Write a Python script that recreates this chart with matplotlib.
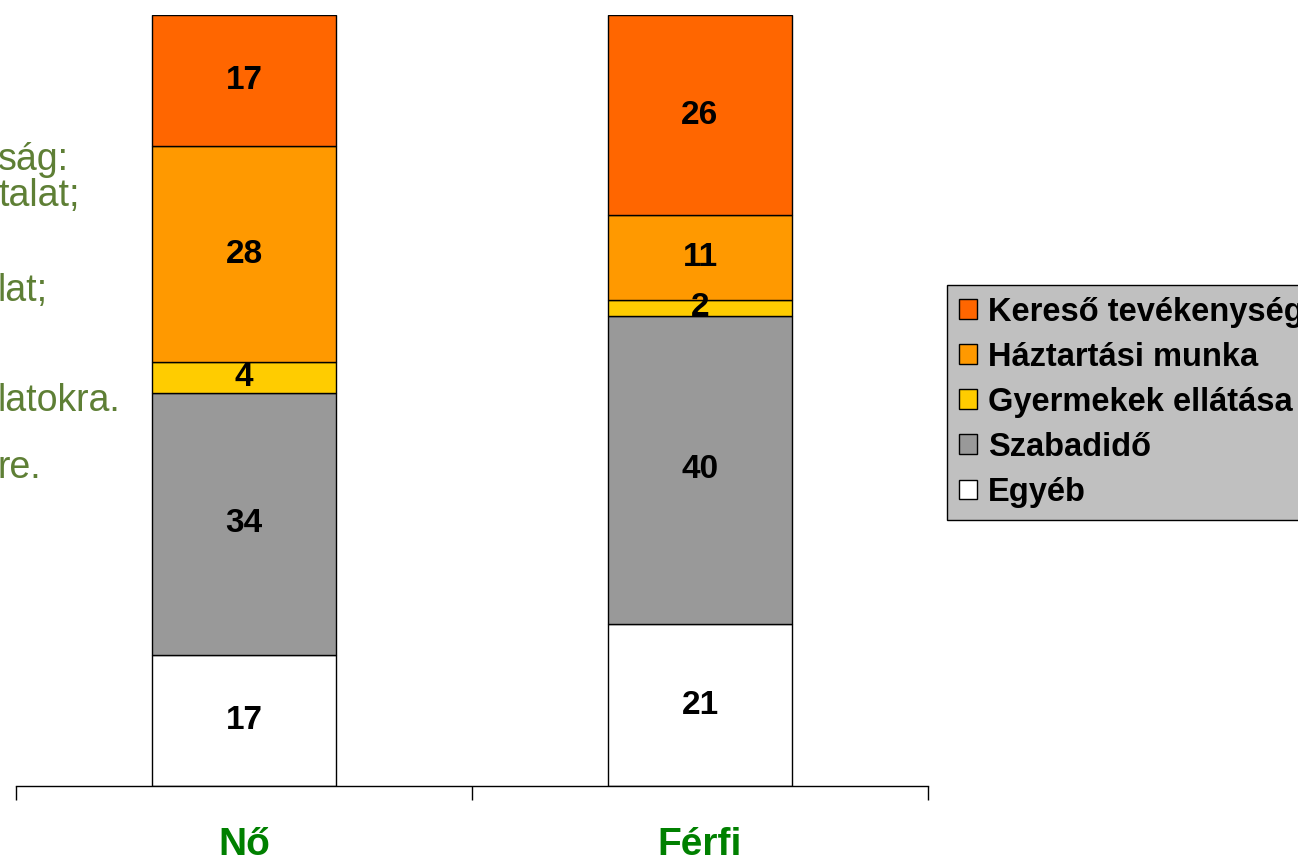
import numpy as np
from matplotlib import pyplot as plt
from matplotlib import font_manager
from matplotlib.patches import Patch

plt.rcParams['font.family'] = ['Liberation Sans', 'DejaVu Sans']

categories = ['Nő', 'Férfi']
series_names = ['Kereső tevékenység', 'Háztartási munka', 'Gyermekek ellátása',
                'Szabadidő', 'Egyéb']
# values per series (Nő, Férfi)
kereso = [17, 26]
haztartasi = [28, 11]
gyermek = [4, 2]
szabadido = [34, 40]
egyeb = [17, 21]
colors = ['#FF6600', '#FF9900', '#FFCC00', '#999999', '#FFFFFF']

side_lines = ['ság:', 'talat;', 'lat;', 'latokra.', 're.']
side_y = [160, 196, 291, 401, 468]  # pixel rows in the source picture

names = {f.name for f in font_manager.fontManager.ttflist}
cat_family = ['Liberation Sans Narrow'] if 'Liberation Sans Narrow' in names else ['Liberation Sans']

W, H = 1298, 864
fig = plt.figure(figsize=(W / 100, H / 100), dpi=100)
ax = fig.add_axes([16 / W, 1 - 786 / H, 912 / W, 771 / H])

x = np.arange(len(categories))
stack = [egyeb, szabadido, gyermek, haztartasi, kereso]
stack_colors = colors[::-1]
bottom = np.zeros(len(categories))
for vals, col in zip(stack, stack_colors):
    vals = np.array(vals, dtype=float)
    ax.bar(x, vals, width=0.402, bottom=bottom, color=col, edgecolor='black', linewidth=1.0)
    for xi, b, v in zip(x, bottom, vals):
        ax.text(xi, b + v / 2, f'{int(v)}', ha='center', va='center',
                fontsize=24, fontweight='bold', color='black')
    bottom += vals

ax.set_xlim(-0.5, 1.5)
ax.set_ylim(0, 100)
for s in ['top', 'right', 'left']:
    ax.spines[s].set_visible(False)
ax.spines['bottom'].set_linewidth(1.0)
ax.set_yticks([])
ax.set_xticks([-0.5, 0.5, 1.5])
ax.set_xticklabels([])
ax.tick_params(axis='x', direction='out', length=10, width=1.0)
for xi, name in zip(x, categories):
    ax.text(xi, -7.6, name, ha='center', va='center', fontsize=28,
            fontweight='bold', color='#008000', family=cat_family, clip_on=False)

for txt, py in zip(side_lines, side_y):
    fig.text(-2 / W, 1 - py / H, txt, ha='left', va='center', fontsize=27,
             color='#5E7F35')

handles = [Patch(facecolor=c, edgecolor='black', linewidth=1.0) for c in colors]
leg = fig.legend(handles, series_names, loc='upper left',
                 bbox_to_anchor=(947 / W, 1 - 285 / H), frameon=True,
                 fancybox=False, edgecolor='black', facecolor='#C0C0C0',
                 framealpha=1.0, prop={'weight': 'bold', 'size': 23.5},
                 handlelength=0.55, handleheight=0.55, handletextpad=0.35,
                 labelspacing=0.43, borderpad=0.36, borderaxespad=0)
leg.get_frame().set_linewidth(1.0)

fig.savefig('out.png', dpi=100)
